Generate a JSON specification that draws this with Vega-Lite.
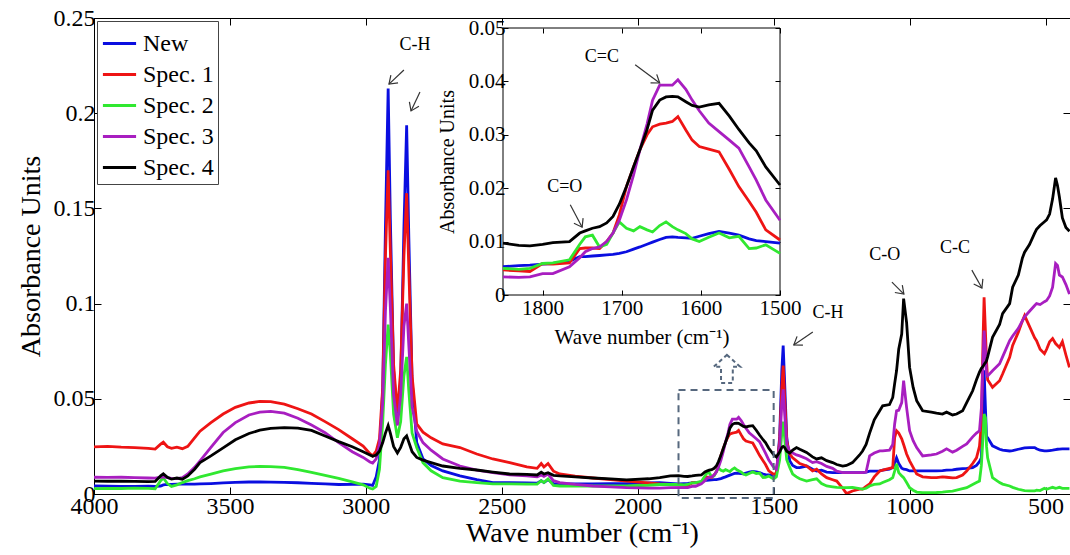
{
 "$schema": "https://vega.github.io/schema/vega-lite/v6.json",
 "width": 976, "height": 476,
 "autosize": {"type": "none"},
 "padding": {"left": 94, "top": 18, "right": 0, "bottom": 61},
 "background": "white",
 "config": {
  "font": "Liberation Serif",
  "view": {"stroke": "black", "strokeWidth": 1},
  "axis": {"grid": false, "domainColor": "black", "tickColor": "black", "labelColor": "black", "titleColor": "black", "labelFont": "Liberation Serif", "titleFont": "Liberation Serif", "titleFontWeight": "normal", "labelFlush": false, "labelOverlap": false, "labelBound": false}
 },
 "datasets": {
  "spec": [
   {"w":4000,"N":0.0042,"S1":0.0247,"S2":0.0028,"S3":0.0088,"S4":0.0068},
   {"w":3950,"N":0.0041,"S1":0.0250,"S2":0.0030,"S3":0.0087,"S4":0.0067},
   {"w":3900,"N":0.0040,"S1":0.0246,"S2":0.0029,"S3":0.0088,"S4":0.0068},
   {"w":3850,"N":0.0040,"S1":0.0244,"S2":0.0031,"S3":0.0086,"S4":0.0066},
   {"w":3800,"N":0.0041,"S1":0.0240,"S2":0.0030,"S3":0.0084,"S4":0.0065},
   {"w":3775,"N":0.0040,"S1":0.0236,"S2":0.0027,"S3":0.0083,"S4":0.0066},
   {"w":3755,"N":0.0042,"S1":0.0262,"S2":0.0070,"S3":0.0088,"S4":0.0095},
   {"w":3745,"N":0.0048,"S1":0.0272,"S2":0.0084,"S3":0.0090,"S4":0.0106},
   {"w":3730,"N":0.0050,"S1":0.0248,"S2":0.0055,"S3":0.0086,"S4":0.0088},
   {"w":3715,"N":0.0051,"S1":0.0240,"S2":0.0040,"S3":0.0082,"S4":0.0078},
   {"w":3695,"N":0.0052,"S1":0.0246,"S2":0.0048,"S3":0.0081,"S4":0.0084},
   {"w":3675,"N":0.0052,"S1":0.0238,"S2":0.0060,"S3":0.0086,"S4":0.0078},
   {"w":3655,"N":0.0052,"S1":0.0250,"S2":0.0070,"S3":0.0105,"S4":0.0095},
   {"w":3630,"N":0.0052,"S1":0.0295,"S2":0.0080,"S3":0.0140,"S4":0.0130},
   {"w":3610,"N":0.0053,"S1":0.0330,"S2":0.0090,"S3":0.0174,"S4":0.0165},
   {"w":3570,"N":0.0055,"S1":0.0375,"S2":0.0104,"S3":0.0245,"S4":0.0200},
   {"w":3525,"N":0.0058,"S1":0.0420,"S2":0.0121,"S3":0.0323,"S4":0.0242},
   {"w":3480,"N":0.0061,"S1":0.0455,"S2":0.0133,"S3":0.0375,"S4":0.0285},
   {"w":3430,"N":0.0063,"S1":0.0478,"S2":0.0142,"S3":0.0415,"S4":0.0318},
   {"w":3390,"N":0.0063,"S1":0.0486,"S2":0.0145,"S3":0.0430,"S4":0.0335},
   {"w":3350,"N":0.0062,"S1":0.0485,"S2":0.0144,"S3":0.0434,"S4":0.0345},
   {"w":3300,"N":0.0061,"S1":0.0472,"S2":0.0140,"S3":0.0425,"S4":0.0349},
   {"w":3250,"N":0.0059,"S1":0.0448,"S2":0.0128,"S3":0.0398,"S4":0.0346},
   {"w":3200,"N":0.0056,"S1":0.0420,"S2":0.0114,"S3":0.0362,"S4":0.0334},
   {"w":3150,"N":0.0053,"S1":0.0380,"S2":0.0098,"S3":0.0322,"S4":0.0305},
   {"w":3100,"N":0.0050,"S1":0.0338,"S2":0.0082,"S3":0.0270,"S4":0.0275},
   {"w":3050,"N":0.0051,"S1":0.0290,"S2":0.0064,"S3":0.0222,"S4":0.0248},
   {"w":3010,"N":0.0052,"S1":0.0252,"S2":0.0048,"S3":0.0192,"S4":0.0222},
   {"w":2985,"N":0.0048,"S1":0.0212,"S2":0.0030,"S3":0.0168,"S4":0.0205},
   {"w":2975,"N":0.0045,"S1":0.0200,"S2":0.0026,"S3":0.0162,"S4":0.0198},
   {"w":2962,"N":0.0090,"S1":0.0225,"S2":0.0040,"S3":0.0185,"S4":0.0205},
   {"w":2950,"N":0.0180,"S1":0.0290,"S2":0.0130,"S3":0.0260,"S4":0.0225},
   {"w":2938,"N":0.0550,"S1":0.0560,"S2":0.0380,"S3":0.0480,"S4":0.0270},
   {"w":2928,"N":0.1400,"S1":0.1250,"S2":0.0680,"S3":0.0960,"S4":0.0320},
   {"w":2918,"N":0.2130,"S1":0.1700,"S2":0.0890,"S3":0.1240,"S4":0.0360},
   {"w":2910,"N":0.1450,"S1":0.1280,"S2":0.0740,"S3":0.0980,"S4":0.0320},
   {"w":2898,"N":0.0650,"S1":0.0680,"S2":0.0420,"S3":0.0520,"S4":0.0250},
   {"w":2884,"N":0.0390,"S1":0.0430,"S2":0.0295,"S3":0.0360,"S4":0.0216},
   {"w":2872,"N":0.0580,"S1":0.0650,"S2":0.0380,"S3":0.0520,"S4":0.0245},
   {"w":2860,"N":0.1400,"S1":0.1250,"S2":0.0620,"S3":0.0880,"S4":0.0290},
   {"w":2850,"N":0.1937,"S1":0.1580,"S2":0.0720,"S3":0.1000,"S4":0.0305},
   {"w":2842,"N":0.1350,"S1":0.1180,"S2":0.0540,"S3":0.0780,"S4":0.0272},
   {"w":2830,"N":0.0600,"S1":0.0620,"S2":0.0320,"S3":0.0460,"S4":0.0222},
   {"w":2813,"N":0.0270,"S1":0.0368,"S2":0.0244,"S3":0.0330,"S4":0.0192},
   {"w":2790,"N":0.0185,"S1":0.0325,"S2":0.0165,"S3":0.0270,"S4":0.0178},
   {"w":2760,"N":0.0150,"S1":0.0295,"S2":0.0122,"S3":0.0230,"S4":0.0165},
   {"w":2717,"N":0.0121,"S1":0.0263,"S2":0.0086,"S3":0.0184,"S4":0.0147},
   {"w":2654,"N":0.0095,"S1":0.0244,"S2":0.0068,"S3":0.0147,"S4":0.0135},
   {"w":2592,"N":0.0075,"S1":0.0210,"S2":0.0060,"S3":0.0125,"S4":0.0126},
   {"w":2533,"N":0.0060,"S1":0.0184,"S2":0.0053,"S3":0.0112,"S4":0.0115},
   {"w":2471,"N":0.0060,"S1":0.0165,"S2":0.0053,"S3":0.0100,"S4":0.0105},
   {"w":2408,"N":0.0058,"S1":0.0142,"S2":0.0052,"S3":0.0095,"S4":0.0103},
   {"w":2370,"N":0.0057,"S1":0.0135,"S2":0.0052,"S3":0.0090,"S4":0.0100},
   {"w":2355,"N":0.0070,"S1":0.0160,"S2":0.0070,"S3":0.0100,"S4":0.0115},
   {"w":2345,"N":0.0060,"S1":0.0142,"S2":0.0060,"S3":0.0092,"S4":0.0105},
   {"w":2330,"N":0.0075,"S1":0.0160,"S2":0.0079,"S3":0.0105,"S4":0.0112},
   {"w":2310,"N":0.0055,"S1":0.0120,"S2":0.0045,"S3":0.0070,"S4":0.0098},
   {"w":2287,"N":0.0053,"S1":0.0105,"S2":0.0042,"S3":0.0060,"S4":0.0095},
   {"w":2230,"N":0.0053,"S1":0.0094,"S2":0.0042,"S3":0.0050,"S4":0.0090},
   {"w":2165,"N":0.0053,"S1":0.0084,"S2":0.0042,"S3":0.0042,"S4":0.0084},
   {"w":2100,"N":0.0054,"S1":0.0075,"S2":0.0042,"S3":0.0037,"S4":0.0079},
   {"w":2041,"N":0.0055,"S1":0.0068,"S2":0.0042,"S3":0.0033,"S4":0.0074},
   {"w":1960,"N":0.0058,"S1":0.0058,"S2":0.0046,"S3":0.0031,"S4":0.0080},
   {"w":1919,"N":0.0060,"S1":0.0053,"S2":0.0050,"S3":0.0031,"S4":0.0086},
   {"w":1880,"N":0.0056,"S1":0.0050,"S2":0.0050,"S3":0.0033,"S4":0.0095},
   {"w":1850,"N":0.0053,"S1":0.0047,"S2":0.0050,"S3":0.0034,"S4":0.0097},
   {"w":1830,"N":0.0055,"S1":0.0045,"S2":0.0048,"S3":0.0033,"S4":0.0093},
   {"w":1816,"N":0.0056,"S1":0.0044,"S2":0.0050,"S3":0.0034,"S4":0.0092},
   {"w":1800,"N":0.0058,"S1":0.0059,"S2":0.0059,"S3":0.0040,"S4":0.0095},
   {"w":1787,"N":0.0059,"S1":0.0058,"S2":0.0060,"S3":0.0040,"S4":0.0098},
   {"w":1766,"N":0.0063,"S1":0.0060,"S2":0.0066,"S3":0.0053,"S4":0.0100},
   {"w":1753,"N":0.0072,"S1":0.0087,"S2":0.0095,"S3":0.0070,"S4":0.0116},
   {"w":1746,"N":0.0072,"S1":0.0088,"S2":0.0109,"S3":0.0081,"S4":0.0120},
   {"w":1737,"N":0.0073,"S1":0.0088,"S2":0.0112,"S3":0.0087,"S4":0.0125},
   {"w":1728,"N":0.0074,"S1":0.0087,"S2":0.0090,"S3":0.0090,"S4":0.0128},
   {"w":1719,"N":0.0075,"S1":0.0100,"S2":0.0095,"S3":0.0100,"S4":0.0135},
   {"w":1711,"N":0.0076,"S1":0.0116,"S2":0.0116,"S3":0.0116,"S4":0.0147},
   {"w":1703,"N":0.0078,"S1":0.0150,"S2":0.0137,"S3":0.0140,"S4":0.0170},
   {"w":1694,"N":0.0081,"S1":0.0203,"S2":0.0125,"S3":0.0178,"S4":0.0203},
   {"w":1685,"N":0.0086,"S1":0.0240,"S2":0.0120,"S3":0.0225,"S4":0.0240},
   {"w":1677,"N":0.0090,"S1":0.0272,"S2":0.0128,"S3":0.0272,"S4":0.0272},
   {"w":1668,"N":0.0095,"S1":0.0300,"S2":0.0122,"S3":0.0320,"S4":0.0310},
   {"w":1661,"N":0.0099,"S1":0.0315,"S2":0.0118,"S3":0.0365,"S4":0.0346},
   {"w":1652,"N":0.0104,"S1":0.0320,"S2":0.0130,"S3":0.0393,"S4":0.0365},
   {"w":1644,"N":0.0108,"S1":0.0322,"S2":0.0137,"S3":0.0393,"S4":0.0371},
   {"w":1636,"N":0.0109,"S1":0.0325,"S2":0.0128,"S3":0.0393,"S4":0.0372},
   {"w":1629,"N":0.0108,"S1":0.0334,"S2":0.0122,"S3":0.0403,"S4":0.0371},
   {"w":1619,"N":0.0107,"S1":0.0309,"S2":0.0115,"S3":0.0385,"S4":0.0362},
   {"w":1611,"N":0.0106,"S1":0.0290,"S2":0.0105,"S3":0.0365,"S4":0.0355},
   {"w":1602,"N":0.0110,"S1":0.0278,"S2":0.0100,"S3":0.0345,"S4":0.0352},
   {"w":1590,"N":0.0115,"S1":0.0273,"S2":0.0108,"S3":0.0322,"S4":0.0356},
   {"w":1577,"N":0.0119,"S1":0.0268,"S2":0.0116,"S3":0.0306,"S4":0.0359},
   {"w":1564,"N":0.0116,"S1":0.0235,"S2":0.0107,"S3":0.0290,"S4":0.0335},
   {"w":1552,"N":0.0112,"S1":0.0203,"S2":0.0110,"S3":0.0275,"S4":0.0310},
   {"w":1539,"N":0.0105,"S1":0.0175,"S2":0.0087,"S3":0.0240,"S4":0.0285},
   {"w":1530,"N":0.0102,"S1":0.0155,"S2":0.0088,"S3":0.0215,"S4":0.0270},
   {"w":1518,"N":0.0100,"S1":0.0122,"S2":0.0094,"S3":0.0178,"S4":0.0240},
   {"w":1500,"N":0.0097,"S1":0.0103,"S2":0.0078,"S3":0.0140,"S4":0.0206},
   {"w":1490,"N":0.0100,"S1":0.0110,"S2":0.0090,"S3":0.0130,"S4":0.0195},
   {"w":1478,"N":0.0300,"S1":0.0280,"S2":0.0180,"S3":0.0250,"S4":0.0220},
   {"w":1470,"N":0.0650,"S1":0.0560,"S2":0.0320,"S3":0.0480,"S4":0.0245},
   {"w":1465,"N":0.0779,"S1":0.0674,"S2":0.0380,"S3":0.0550,"S4":0.0250},
   {"w":1460,"N":0.0600,"S1":0.0520,"S2":0.0300,"S3":0.0430,"S4":0.0245},
   {"w":1452,"N":0.0300,"S1":0.0280,"S2":0.0180,"S3":0.0260,"S4":0.0225},
   {"w":1441,"N":0.0174,"S1":0.0210,"S2":0.0140,"S3":0.0226,"S4":0.0215},
   {"w":1430,"N":0.0150,"S1":0.0190,"S2":0.0105,"S3":0.0215,"S4":0.0230},
   {"w":1416,"N":0.0139,"S1":0.0174,"S2":0.0090,"S3":0.0205,"S4":0.0244},
   {"w":1404,"N":0.0139,"S1":0.0160,"S2":0.0080,"S3":0.0200,"S4":0.0235},
   {"w":1379,"N":0.0147,"S1":0.0147,"S2":0.0068,"S3":0.0185,"S4":0.0218},
   {"w":1357,"N":0.0130,"S1":0.0121,"S2":0.0075,"S3":0.0165,"S4":0.0195},
   {"w":1342,"N":0.0121,"S1":0.0130,"S2":0.0080,"S3":0.0170,"S4":0.0184},
   {"w":1324,"N":0.0125,"S1":0.0105,"S2":0.0055,"S3":0.0160,"S4":0.0190},
   {"w":1305,"N":0.0115,"S1":0.0086,"S2":0.0042,"S3":0.0145,"S4":0.0175},
   {"w":1283,"N":0.0112,"S1":0.0075,"S2":0.0038,"S3":0.0135,"S4":0.0165},
   {"w":1268,"N":0.0112,"S1":0.0068,"S2":0.0035,"S3":0.0120,"S4":0.0155},
   {"w":1246,"N":0.0112,"S1":0.0030,"S2":0.0033,"S3":0.0112,"S4":0.0147},
   {"w":1232,"N":0.0112,"S1":0.0002,"S2":0.0033,"S3":0.0112,"S4":0.0150},
   {"w":1210,"N":0.0112,"S1":0.0016,"S2":0.0035,"S3":0.0112,"S4":0.0165},
   {"w":1184,"N":0.0112,"S1":0.0026,"S2":0.0028,"S3":0.0112,"S4":0.0205},
   {"w":1173,"N":0.0112,"S1":0.0026,"S2":0.0026,"S3":0.0112,"S4":0.0226},
   {"w":1160,"N":0.0115,"S1":0.0040,"S2":0.0030,"S3":0.0115,"S4":0.0260},
   {"w":1147,"N":0.0120,"S1":0.0053,"S2":0.0042,"S3":0.0200,"S4":0.0320},
   {"w":1130,"N":0.0120,"S1":0.0090,"S2":0.0050,"S3":0.0215,"S4":0.0390},
   {"w":1110,"N":0.0121,"S1":0.0121,"S2":0.0053,"S3":0.0226,"S4":0.0437},
   {"w":1099,"N":0.0125,"S1":0.0125,"S2":0.0060,"S3":0.0226,"S4":0.0463},
   {"w":1074,"N":0.0130,"S1":0.0135,"S2":0.0075,"S3":0.0230,"S4":0.0470},
   {"w":1062,"N":0.0139,"S1":0.0139,"S2":0.0086,"S3":0.0260,"S4":0.0507},
   {"w":1055,"N":0.0160,"S1":0.0296,"S2":0.0120,"S3":0.0368,"S4":0.0580},
   {"w":1048,"N":0.0190,"S1":0.0332,"S2":0.0158,"S3":0.0437,"S4":0.0647},
   {"w":1040,"N":0.0160,"S1":0.0320,"S2":0.0112,"S3":0.0440,"S4":0.0760},
   {"w":1029,"N":0.0135,"S1":0.0290,"S2":0.0095,"S3":0.0480,"S4":0.0840},
   {"w":1022,"N":0.0130,"S1":0.0260,"S2":0.0086,"S3":0.0595,"S4":0.1026},
   {"w":1011,"N":0.0128,"S1":0.0210,"S2":0.0060,"S3":0.0454,"S4":0.0900},
   {"w":1000,"N":0.0121,"S1":0.0174,"S2":0.0033,"S3":0.0332,"S4":0.0665},
   {"w":987,"N":0.0121,"S1":0.0140,"S2":0.0020,"S3":0.0280,"S4":0.0560},
   {"w":974,"N":0.0121,"S1":0.0105,"S2":0.0010,"S3":0.0244,"S4":0.0490},
   {"w":952,"N":0.0121,"S1":0.0090,"S2":0.0007,"S3":0.0200,"S4":0.0437},
   {"w":920,"N":0.0121,"S1":0.0086,"S2":0.0007,"S3":0.0205,"S4":0.0430},
   {"w":901,"N":0.0121,"S1":0.0086,"S2":0.0008,"S3":0.0210,"S4":0.0425},
   {"w":879,"N":0.0123,"S1":0.0090,"S2":0.0010,"S3":0.0225,"S4":0.0420},
   {"w":864,"N":0.0125,"S1":0.0088,"S2":0.0012,"S3":0.0237,"S4":0.0430},
   {"w":842,"N":0.0127,"S1":0.0085,"S2":0.0015,"S3":0.0220,"S4":0.0415},
   {"w":827,"N":0.0130,"S1":0.0086,"S2":0.0020,"S3":0.0230,"S4":0.0420},
   {"w":805,"N":0.0133,"S1":0.0100,"S2":0.0028,"S3":0.0250,"S4":0.0437},
   {"w":790,"N":0.0135,"S1":0.0121,"S2":0.0033,"S3":0.0263,"S4":0.0480},
   {"w":768,"N":0.0139,"S1":0.0160,"S2":0.0050,"S3":0.0300,"S4":0.0542},
   {"w":754,"N":0.0150,"S1":0.0190,"S2":0.0060,"S3":0.0320,"S4":0.0600},
   {"w":743,"N":0.0170,"S1":0.0250,"S2":0.0068,"S3":0.0332,"S4":0.0640},
   {"w":736,"N":0.0190,"S1":0.0368,"S2":0.0150,"S3":0.0450,"S4":0.0660},
   {"w":730,"N":0.0450,"S1":0.0800,"S2":0.0300,"S3":0.0700,"S4":0.0670},
   {"w":726,"N":0.0650,"S1":0.1033,"S2":0.0420,"S3":0.0858,"S4":0.0680},
   {"w":721,"N":0.0450,"S1":0.0850,"S2":0.0400,"S3":0.0750,"S4":0.0690},
   {"w":717,"N":0.0300,"S1":0.0700,"S2":0.0250,"S3":0.0630,"S4":0.0700},
   {"w":713,"N":0.0296,"S1":0.0600,"S2":0.0190,"S3":0.0620,"S4":0.0720},
   {"w":695,"N":0.0253,"S1":0.0560,"S2":0.0086,"S3":0.0647,"S4":0.0823},
   {"w":669,"N":0.0235,"S1":0.0595,"S2":0.0060,"S3":0.0684,"S4":0.0890},
   {"w":658,"N":0.0230,"S1":0.0630,"S2":0.0052,"S3":0.0720,"S4":0.0947},
   {"w":632,"N":0.0226,"S1":0.0718,"S2":0.0042,"S3":0.0805,"S4":0.1000},
   {"w":621,"N":0.0228,"S1":0.0780,"S2":0.0035,"S3":0.0830,"S4":0.1086},
   {"w":600,"N":0.0235,"S1":0.0850,"S2":0.0025,"S3":0.0870,"S4":0.1150},
   {"w":585,"N":0.0240,"S1":0.0910,"S2":0.0020,"S3":0.0910,"S4":0.1240},
   {"w":577,"N":0.0242,"S1":0.0937,"S2":0.0018,"S3":0.0930,"S4":0.1270},
   {"w":559,"N":0.0244,"S1":0.0880,"S2":0.0016,"S3":0.0960,"S4":0.1310},
   {"w":540,"N":0.0244,"S1":0.0820,"S2":0.0016,"S3":0.0990,"S4":0.1370},
   {"w":533,"N":0.0238,"S1":0.0805,"S2":0.0020,"S3":0.1000,"S4":0.1390},
   {"w":520,"N":0.0230,"S1":0.0760,"S2":0.0018,"S3":0.0995,"S4":0.1410},
   {"w":504,"N":0.0226,"S1":0.0737,"S2":0.0030,"S3":0.1010,"S4":0.1430},
   {"w":496,"N":0.0226,"S1":0.0760,"S2":0.0025,"S3":0.1016,"S4":0.1440},
   {"w":485,"N":0.0228,"S1":0.0800,"S2":0.0030,"S3":0.1040,"S4":0.1470},
   {"w":474,"N":0.0230,"S1":0.0816,"S2":0.0035,"S3":0.1086,"S4":0.1550},
   {"w":463,"N":0.0233,"S1":0.0790,"S2":0.0030,"S3":0.1210,"S4":0.1660},
   {"w":456,"N":0.0235,"S1":0.0780,"S2":0.0032,"S3":0.1200,"S4":0.1620},
   {"w":449,"N":0.0236,"S1":0.0770,"S2":0.0035,"S3":0.1150,"S4":0.1560},
   {"w":438,"N":0.0237,"S1":0.0800,"S2":0.0030,"S3":0.1140,"S4":0.1450},
   {"w":425,"N":0.0237,"S1":0.0730,"S2":0.0030,"S3":0.1100,"S4":0.1400},
   {"w":412,"N":0.0237,"S1":0.0665,"S2":0.0030,"S3":0.1050,"S4":0.1380}
  ],
  "annm": [
   {"w":2819,"v":0.2358,"t":"C-H"},
   {"w":1300,"v":0.0951,"t":"C-H"},
   {"w":1091,"v":0.1255,"t":"C-O"},
   {"w":833,"v":0.1292,"t":"C-C"}
  ],
  "arrm": [
   {"w1":2860,"v1":0.2227,"w2":2915,"v2":0.2153,"ang":137},
   {"w1":2801,"v1":0.2111,"w2":2834,"v2":0.2012,"ang":115},
   {"w1":1356,"v1":0.0851,"w2":1426,"v2":0.0783,"ang":146},
   {"w1":1065,"v1":0.1113,"w2":1021,"v2":0.1050,"ang":45},
   {"w1":771,"v1":0.1176,"w2":734,"v2":0.1082,"ang":61}
  ],
  "box": [{"w1":1850,"w2":1500,"v1":-0.0021,"v2":0.0546}],
  "darr": [{"w":1672,"v":0.0657}],
  "frame": [{"w1":1850,"w2":1500,"v1":0,"v2":0.05}],
  "anni": [
   {"w":1725,"v":0.0446,"t":"C=C"},
   {"w":1772,"v":0.0202,"t":"C=O"}
  ],
  "arri": [
   {"w1":1683,"v1":0.0431,"w2":1652,"v2":0.0397,"ang":36},
   {"w1":1765,"v1":0.0169,"w2":1750,"v2":0.0127,"ang":61}
  ]
 },
 "layer": [
  {
   "layer": [
    {
     "data": {"name": "spec"},
     "transform": [{"fold": ["N","S1","S2","S3","S4"], "as": ["s","a"]}],
     "mark": {"type": "line", "strokeWidth": 2.8, "clip": true},
     "encoding": {
      "x": {"field": "w", "type": "quantitative",
            "scale": {"domain": [410, 4000], "reverse": true, "nice": false, "zero": false},
            "axis": {"orient": "bottom", "values": [4000,3500,3000,2500,2000,1500,1000,500], "format": "d", "labelFontSize": 24, "tickSize": -7, "labelPadding": 7, "title": "Wave number (cm⁻¹)", "titleFontSize": 28, "titlePadding": 1}},
      "y": {"field": "a", "type": "quantitative",
            "scale": {"domain": [0, 0.25], "nice": false, "zero": false},
            "axis": {"orient": "left", "values": [0,0.05,0.1,0.15,0.2,0.25], "format": ".2~f", "labelFontSize": 24, "tickSize": -7, "labelPadding": 6, "title": "Absorbance Units", "titleFontSize": 28, "titlePadding": 8}},
      "color": {"field": "s", "type": "nominal",
                "scale": {"domain": ["N","S1","S2","S3","S4"], "range": ["#0a0ee0","#ee1414","#30e830","#a81ec0","#000000"]},
                "legend": {"orient": "top-left", "offset": 3, "title": null, "strokeColor": "#444", "fillColor": "white", "padding": 4, "symbolType": "stroke", "symbolSize": 1100, "symbolStrokeWidth": 3, "labelFontSize": 24, "labelFont": "Liberation Serif", "labelColor": "black", "rowPadding": 0, "labelOffset": 5,
                           "labelExpr": "datum.label == 'N' ? 'New' : 'Spec. ' + substring(datum.label, 1)"}}
     }
    },
    {
     "data": {"name": "box"},
     "mark": {"type": "rect", "fillOpacity": 0, "stroke": "#56687e", "strokeDash": [7,5], "strokeWidth": 2},
     "encoding": {
      "x": {"field": "w1", "type": "quantitative",
            "scale": {"domain": [410, 4000], "reverse": true, "nice": false, "zero": false},
            "axis": {"orient": "top", "values": [4000,3500,3000,2500,2000,1500,1000,500], "labels": false, "tickSize": -7, "title": null, "domain": false}},
      "x2": {"field": "w2"},
      "y": {"field": "v1", "type": "quantitative",
            "scale": {"domain": [0, 0.25], "nice": false, "zero": false},
            "axis": {"orient": "right", "values": [0,0.05,0.1,0.15,0.2,0.25], "labels": false, "tickSize": -7, "title": null, "domain": false}},
      "y2": {"field": "v2"}
     }
    },
    {
     "data": {"name": "arrm"},
     "mark": {"type": "rule", "stroke": "#333", "strokeWidth": 1.2},
     "encoding": {
      "x": {"field": "w1", "type": "quantitative", "scale": {"domain": [410, 4000], "reverse": true, "nice": false, "zero": false}, "axis": null},
      "x2": {"field": "w2"},
      "y": {"field": "v1", "type": "quantitative", "scale": {"domain": [0, 0.25], "nice": false, "zero": false}, "axis": null},
      "y2": {"field": "v2"}
     }
    },
    {
     "data": {"name": "arrm"},
     "mark": {"type": "point", "shape": "M-1,-0.7L0,0L-1,0.7", "filled": false, "stroke": "#333", "strokeWidth": 1.2, "size": 225, "opacity": 1},
     "encoding": {
      "x": {"field": "w2", "type": "quantitative", "scale": {"domain": [410, 4000], "reverse": true, "nice": false, "zero": false}, "axis": null},
      "y": {"field": "v2", "type": "quantitative", "scale": {"domain": [0, 0.25], "nice": false, "zero": false}, "axis": null},
      "angle": {"field": "ang", "type": "quantitative", "scale": null}
     }
    },
    {
     "data": {"name": "annm"},
     "mark": {"type": "text", "font": "Liberation Serif", "fontSize": 18, "color": "black", "align": "center", "baseline": "middle"},
     "encoding": {
      "x": {"field": "w", "type": "quantitative", "scale": {"domain": [410, 4000], "reverse": true, "nice": false, "zero": false}, "axis": null},
      "y": {"field": "v", "type": "quantitative", "scale": {"domain": [0, 0.25], "nice": false, "zero": false}, "axis": null},
      "text": {"field": "t"}
     }
    },
    {
     "data": {"name": "darr"},
     "mark": {"type": "point", "shape": "M0,-1L0.95,-0.15L0.42,-0.15L0.42,1L-0.42,1L-0.42,-0.15L-0.95,-0.15Z", "filled": false, "stroke": "#56687e", "strokeDash": [4,3], "strokeWidth": 2, "size": 784, "opacity": 1},
     "encoding": {
      "x": {"field": "w", "type": "quantitative", "scale": {"domain": [410, 4000], "reverse": true, "nice": false, "zero": false}, "axis": null},
      "y": {"field": "v", "type": "quantitative", "scale": {"domain": [0, 0.25], "nice": false, "zero": false}, "axis": null}
     }
    }
   ],
   "resolve": {"axis": {"x": "independent", "y": "independent"}}
  },
  {
   "layer": [
    {
     "data": {"name": "frame"},
     "mark": {"type": "rect", "fill": "white", "fillOpacity": 0, "stroke": "black", "strokeWidth": 1},
     "encoding": {
      "x": {"field": "w1", "type": "quantitative", "scale": {"domain": [1500, 1850], "reverse": true, "range": [409, 686], "nice": false, "zero": false},
            "axis": {"orient": "bottom", "offset": -199, "values": [1800,1700,1600,1500], "format": "d", "labelFontSize": 21, "tickSize": -5, "labelPadding": 7, "title": "Wave number (cm⁻¹)", "titleFontSize": 21, "titlePadding": 8, "domain": false}},
      "x2": {"field": "w2"},
      "y": {"field": "v1", "type": "quantitative", "scale": {"domain": [0, 0.05], "range": [277, 10], "nice": false, "zero": false},
            "axis": {"orient": "left", "offset": -409, "values": [0,0.01,0.02,0.03,0.04,0.05], "format": ".2~f", "labelFontSize": 21, "tickSize": -5, "labelPadding": 3, "title": "Absorbance Units", "titleFontSize": 20, "titlePadding": 11, "domain": false}},
      "y2": {"field": "v2"}
     }
    },
    {
     "data": {"name": "spec"},
     "transform": [{"filter": "datum.w >= 1500 && datum.w <= 1850"}, {"fold": ["N","S1","S2","S3","S4"], "as": ["s","a"]}],
     "mark": {"type": "line", "strokeWidth": 2.8},
     "encoding": {
      "x": {"field": "w", "type": "quantitative", "scale": {"domain": [1500, 1850], "reverse": true, "range": [409, 686], "nice": false, "zero": false}, "axis": null},
      "y": {"field": "a", "type": "quantitative", "scale": {"domain": [0, 0.05], "range": [277, 10], "nice": false, "zero": false}, "axis": null},
      "color": {"field": "s", "type": "nominal", "scale": {"domain": ["N","S1","S2","S3","S4"], "range": ["#0a0ee0","#ee1414","#30e830","#a81ec0","#000000"]}, "legend": null}
     }
    },
    {
     "data": {"name": "arri"},
     "mark": {"type": "rule", "stroke": "#333", "strokeWidth": 1.2},
     "encoding": {
      "x": {"field": "w1", "type": "quantitative", "scale": {"domain": [1500, 1850], "reverse": true, "range": [409, 686], "nice": false, "zero": false},
            "axis": {"orient": "top", "offset": -10, "values": [1800,1700,1600,1500], "labels": false, "tickSize": -5, "title": null, "domain": false}},
      "x2": {"field": "w2"},
      "y": {"field": "v1", "type": "quantitative", "scale": {"domain": [0, 0.05], "range": [277, 10], "nice": false, "zero": false},
            "axis": {"orient": "right", "offset": -290, "values": [0,0.01,0.02,0.03,0.04,0.05], "labels": false, "tickSize": -5, "title": null, "domain": false}},
      "y2": {"field": "v2"}
     }
    },
    {
     "data": {"name": "arri"},
     "mark": {"type": "point", "shape": "M-1,-0.7L0,0L-1,0.7", "filled": false, "stroke": "#333", "strokeWidth": 1.2, "size": 225, "opacity": 1},
     "encoding": {
      "x": {"field": "w2", "type": "quantitative", "scale": {"domain": [1500, 1850], "reverse": true, "range": [409, 686], "nice": false, "zero": false}, "axis": null},
      "y": {"field": "v2", "type": "quantitative", "scale": {"domain": [0, 0.05], "range": [277, 10], "nice": false, "zero": false}, "axis": null},
      "angle": {"field": "ang", "type": "quantitative", "scale": null}
     }
    },
    {
     "data": {"name": "anni"},
     "mark": {"type": "text", "font": "Liberation Serif", "fontSize": 18, "color": "black", "align": "center", "baseline": "middle"},
     "encoding": {
      "x": {"field": "w", "type": "quantitative", "scale": {"domain": [1500, 1850], "reverse": true, "range": [409, 686], "nice": false, "zero": false}, "axis": null},
      "y": {"field": "v", "type": "quantitative", "scale": {"domain": [0, 0.05], "range": [277, 10], "nice": false, "zero": false}, "axis": null},
      "text": {"field": "t"}
     }
    }
   ],
   "resolve": {"axis": {"x": "independent", "y": "independent"}}
  }
 ],
 "resolve": {"scale": {"x": "independent", "y": "independent"}}
}
